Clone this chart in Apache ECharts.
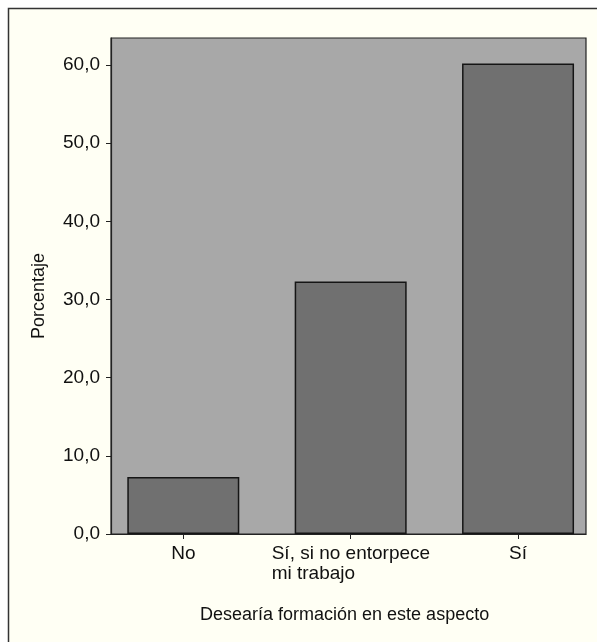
<!DOCTYPE html>
<html><head><meta charset="utf-8">
<script src="https://cdn.jsdelivr.net/npm/echarts@6/dist/echarts.min.js"></script>
<style>html,body{margin:0;padding:0;background:#fff}#c{width:597px;height:642px}</style>
</head><body><div id="c"></div>
<script>
const categories = ['No', 'Sí, si no entorpece\nmi trabajo', 'Sí'];
const values = [7.3, 32.3, 60.2];
const yTicks = [0, 10, 20, 30, 40, 50, 60];
const xTitle = 'Desearía formación en este aspecto';
const yTitle = 'Porcentaje';

const FONT = 'Liberation Sans, Arial, Helvetica, sans-serif';
const chart = echarts.init(document.getElementById('c'), null, {renderer: 'canvas'});
chart.setOption({
  animation: false,
  backgroundColor: '#ffffff',
  graphic: [
    {type: 'rect', z: -10, silent: true, shape: {x: 8.5, y: 8.5, width: 620, height: 660},
     style: {fill: '#fffff4', stroke: '#333', lineWidth: 1.5}},
    {type: 'text', rotation: Math.PI / 2, silent: true, x: 39, y: 296,
     style: {text: yTitle, font: '18px ' + FONT, fill: '#111', textAlign: 'center', textVerticalAlign: 'middle'}}
  ],
  title: {
    text: xTitle, left: 195, top: 601,
    textStyle: {fontFamily: FONT, fontSize: 18, fontWeight: 'normal', color: '#111'}
  },
  grid: {left: 111, top: 38, right: 11, bottom: 108, show: true,
         backgroundColor: '#a8a8a8', borderColor: '#222', borderWidth: 1.2},
  xAxis: {
    type: 'value', min: -0.432, max: 2.406,
    splitLine: {show: false},
    axisLine: {show: true, onZero: false, lineStyle: {color: '#222', width: 1.2}},
    axisTick: {show: true, length: 5, lineStyle: {color: '#222'}, customValues: [0, 1, 2]},
    axisLabel: {
      customValues: [0, 1, 2], margin: 10, color: '#111', fontFamily: FONT, fontSize: 19, lineHeight: 20,
      formatter: function (v) {
        const s = categories[Math.round(v)];
        if (s.indexOf('\n') >= 0) {
          return s.split('\n').map(t => '{l|' + t + '}').join('\n');
        }
        return s;
      },
      rich: {l: {width: 158, align: 'left', fontFamily: FONT, fontSize: 19, lineHeight: 20, color: '#111'}}
    }
  },
  yAxis: {
    type: 'value', min: 0, max: 63.45,
    splitLine: {show: false},
    axisLine: {show: true, onZero: false, lineStyle: {color: '#222', width: 1.2}},
    axisTick: {show: true, length: 5, lineStyle: {color: '#222'}, customValues: yTicks},
    axisLabel: {
      customValues: yTicks, margin: 11, color: '#111', fontFamily: FONT, fontSize: 19,
      formatter: v => v.toFixed(1).replace('.', ',')
    }
  },
  series: [{
    type: 'bar', barWidth: 112,
    data: values.map((v, i) => [i, v]),
    itemStyle: {color: '#707070', borderColor: '#151515', borderWidth: 1.5}
  }]
});
</script></body></html>
